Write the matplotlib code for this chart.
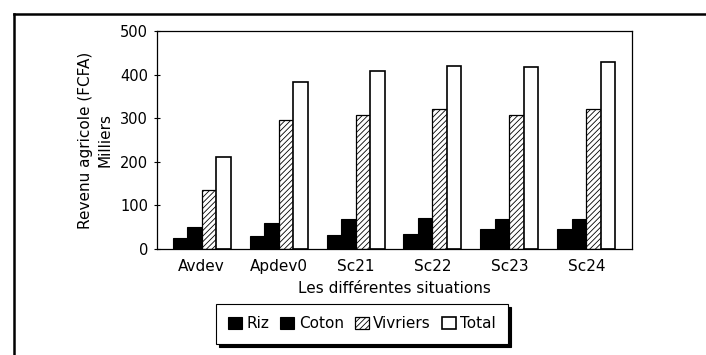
import matplotlib
matplotlib.use("Agg")
import matplotlib.pyplot as plt
import numpy as np
from matplotlib.lines import Line2D

plt.rcParams['font.family'] = ['DejaVu Sans']
plt.rcParams['hatch.linewidth'] = 0.6

situations = ["Avdev", "Apdev0", "Sc21", "Sc22", "Sc23", "Sc24"]
riz = [26, 30, 31, 34, 47, 46]
coton = [51, 59, 68, 72, 68, 68]
vivriers = [135, 295, 307, 321, 307, 320]
total = [212, 382, 408, 420, 417, 429]
yticks = [0, 100, 200, 300, 400, 500]

fig = plt.figure(figsize=(7.06, 3.55), dpi=100)
ax = fig.add_axes([0.2224, 0.2986, 0.6728, 0.6141])

x = np.arange(len(situations))
w = 0.1886
offs = [-1.5 * w, -0.5 * w, 0.5 * w, 1.5 * w]

ax.bar(x + offs[0], riz, w, color="black", edgecolor="black", lw=0.8, label="Riz")
ax.bar(x + offs[1], coton, w, color="black", edgecolor="black", lw=0.8, label="Coton")
ax.bar(x + offs[2], vivriers, w, color="white", edgecolor="black", lw=0.9,
       hatch="//////", label="Vivriers")
ax.bar(x + offs[3], total, w, color="white", edgecolor="black", lw=1.2, label="Total")

ax.set_xlim(-0.581, 5.594)
ax.set_ylim(0, 500)
ax.set_yticks(yticks)
ax.set_xticks(x)
ax.set_xticklabels(situations, fontsize=11)
ax.tick_params(axis="y", direction="inout", length=5, width=0.8, pad=4, labelsize=10.5)
ax.tick_params(axis="x", length=0, pad=7)
for s in ax.spines.values():
    s.set_linewidth(0.9)

ax.set_xlabel("Les différentes situations", fontsize=11, labelpad=5)
ax.set_ylabel("Revenu agricole (FCFA)\nMilliers", fontsize=11, labelpad=5,
              linespacing=1.45)

leg = ax.legend(loc="center", ncol=4, frameon=True,
                fancybox=False, edgecolor="black", fontsize=11,
                handlelength=0.92, handleheight=0.8, handletextpad=0.3,
                columnspacing=0.7, borderpad=0.8,
                shadow={"color": "black", "alpha": 1.0, "ox": 2, "oy": -2})
leg.get_frame().set_linewidth(0.8)
leg.set_bbox_to_anchor((362 / 706, 1 - 324 / 355), transform=fig.transFigure)

# outer frame around the figure panel
fig.add_artist(Line2D([14 / 706, 1.0], [1 - 14 / 355, 1 - 14 / 355],
                      transform=fig.transFigure, color="black", lw=1.8))
fig.add_artist(Line2D([14 / 706, 14 / 706], [0.0, 1 - 14 / 355],
                      transform=fig.transFigure, color="black", lw=1.8))

fig.savefig("out.png", dpi=100)
